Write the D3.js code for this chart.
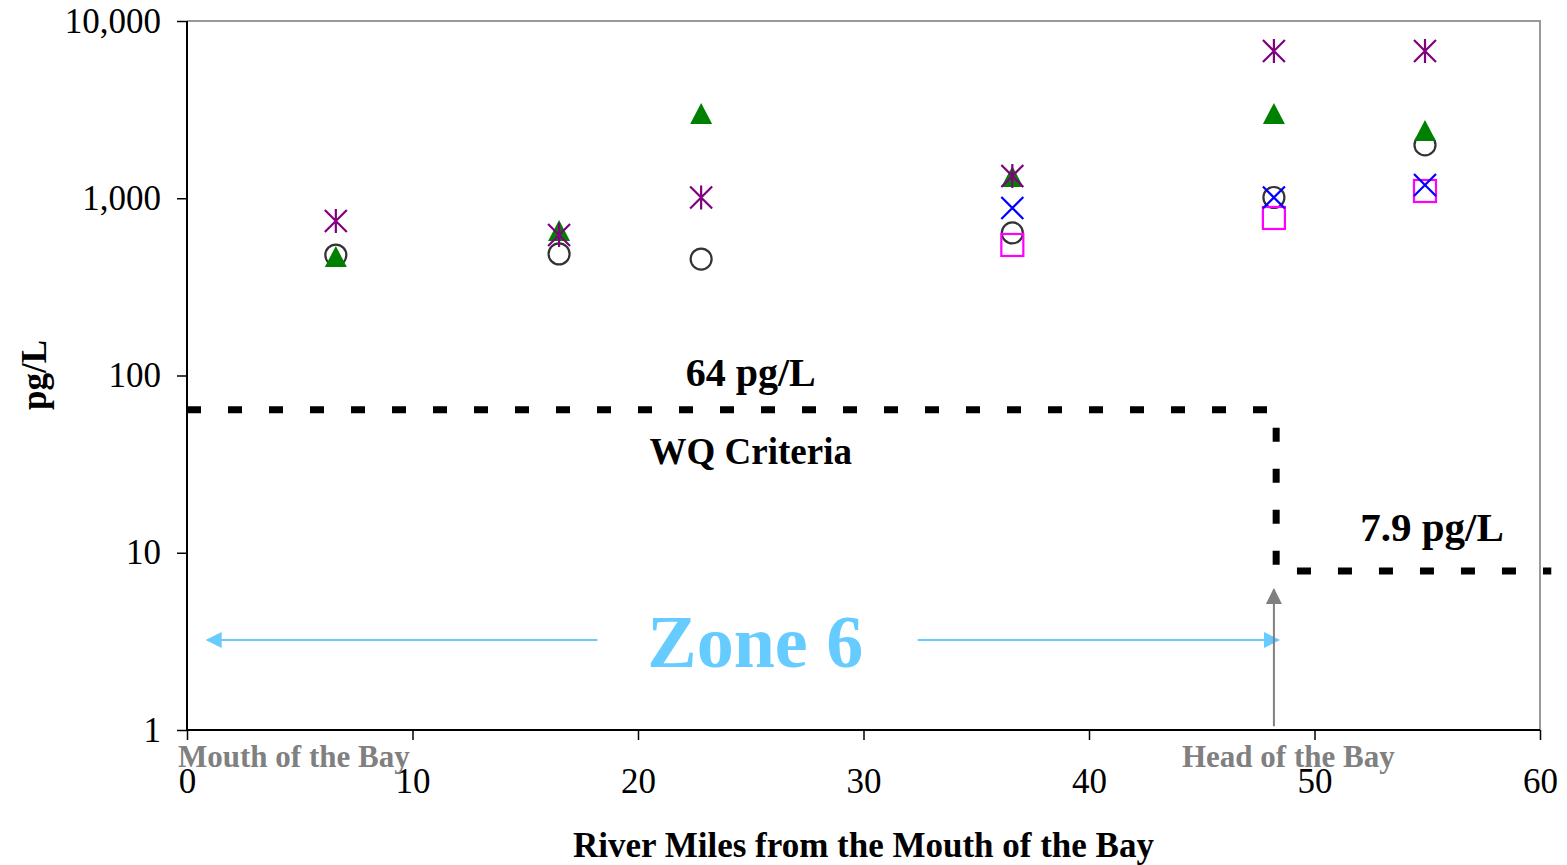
<!DOCTYPE html>
<html>
<head>
<meta charset="utf-8">
<script src="https://cdn.jsdelivr.net/npm/d3@7"></script>
<style>
  body { margin: 0; background: #fff; }
  text { font-family: "Liberation Serif", "Times New Roman", serif; }
</style>
</head>
<body>
<div id="chart"></div>
<script>
// river miles for each station
var miles = [6.6, 16.5, 22.8, 36.6, 48.2, 54.9];
var milesUpper = [36.6, 48.2, 54.9];

// series values (pg/L)
var asterisk = [745, 621, 1010, 1335, 6770, 6770];
var triangle = [466, 654, 2990, 1318, 2990, 2395];
var circle = [478, 485, 454, 637, 1010, 2000];
var cross = [881, 1010, 1188];
var square = [545, 774, 1099];

// criteria step (mile, pg/L)
var criteria = [[0, 64], [48.3, 64], [48.3, 7.9], [60.5, 7.9]];

var xTicks = [0, 10, 20, 30, 40, 50, 60];
var yTicks = [1, 10, 100, 1000, 10000];

function drawChart() {
  var width = 1567, height = 865;
  var mLeft = 187, mRight = 1540, mTop = 21, mBottom = 730;

  var svg = d3.select('#chart').append('svg')
    .attr('width', width)
    .attr('height', height);

  var x = d3.scaleLinear().domain([0, 60]).range([mLeft, mRight]);
  var y = d3.scaleLog().domain([1, 10000]).range([mBottom, mTop]);

  // frame top/right in gray
  svg.append('path')
    .attr('d', 'M' + mLeft + ',' + mTop + 'H' + mRight + 'V' + mBottom)
    .attr('fill', 'none')
    .attr('stroke', '#999')
    .attr('stroke-width', 2);

  // axes
  var yAxis = svg.append('g')
    .attr('transform', 'translate(' + mLeft + ',0)')
    .call(d3.axisLeft(y).tickValues(yTicks).tickSize(10).tickFormat(d3.format(',')));
  var xAxis = svg.append('g')
    .attr('transform', 'translate(0,' + mBottom + ')')
    .call(d3.axisBottom(x).tickValues(xTicks).tickSize(10).tickFormat(function(d){ return d; }));

  [xAxis, yAxis].forEach(function(a) {
    a.select('.domain').attr('stroke', '#000').attr('stroke-width', 2);
    a.selectAll('.tick line').attr('stroke', '#000').attr('stroke-width', 1.5);
    a.selectAll('.tick text')
      .attr('font-family', '"Liberation Serif", serif')
      .attr('font-size', 35)
      .attr('fill', '#000');
  });
  yAxis.select('.domain').attr('d', 'M0,' + mTop + 'V' + mBottom);
  yAxis.selectAll('.tick text').attr('x', -26);
  xAxis.select('.domain').attr('d', 'M' + mLeft + ',0H' + mRight);
  xAxis.selectAll('.tick text').attr('y', 38);

  // axis titles
  svg.append('text')
    .attr('x', x(30)).attr('y', 857)
    .attr('text-anchor', 'middle')
    .attr('font-weight', 'bold').attr('font-size', 35)
    .text('River Miles from the Mouth of the Bay');

  svg.append('text')
    .attr('transform', 'translate(46,375) rotate(-90)')
    .attr('text-anchor', 'middle')
    .attr('font-weight', 'bold').attr('font-size', 35)
    .text('pg/L');

  // location notes under axis
  svg.append('text')
    .attr('x', 178).attr('y', 767)
    .attr('font-weight', 'bold').attr('font-size', 31).attr('fill', '#808080')
    .text('Mouth of the Bay');
  svg.append('text')
    .attr('x', 1182).attr('y', 767)
    .attr('font-weight', 'bold').attr('font-size', 31).attr('fill', '#808080')
    .text('Head of the Bay');

  // criteria dashed step
  var line = d3.line().x(function(d){ return x(d[0]); }).y(function(d){ return y(d[1]); });
  svg.append('path')
    .attr('d', line(criteria))
    .attr('fill', 'none')
    .attr('stroke', '#000')
    .attr('stroke-width', 7)
    .attr('stroke-dasharray', '14,27');

  svg.append('text')
    .attr('x', x(25)).attr('y', 386)
    .attr('text-anchor', 'middle')
    .attr('font-weight', 'bold').attr('font-size', 40)
    .text('64 pg/L');
  svg.append('text')
    .attr('x', x(25)).attr('y', 464)
    .attr('text-anchor', 'middle')
    .attr('font-weight', 'bold').attr('font-size', 37)
    .text('WQ Criteria');
  svg.append('text')
    .attr('x', 1432).attr('y', 541)
    .attr('text-anchor', 'middle')
    .attr('font-weight', 'bold').attr('font-size', 41)
    .text('7.9 pg/L');

  // arrow heads
  var defs = svg.append('defs');
  function marker(id, color) {
    defs.append('marker')
      .attr('id', id)
      .attr('viewBox', '0 0 10 10')
      .attr('refX', 9).attr('refY', 5)
      .attr('markerWidth', 16).attr('markerHeight', 16)
      .attr('markerUnits', 'userSpaceOnUse')
      .attr('orient', 'auto')
      .append('path').attr('d', 'M0,0L10,5L0,10Z').attr('fill', color);
  }
  marker('blueHead', '#66CCFF');
  marker('grayHead', '#808080');

  var zoneY = y(3.22);
  svg.append('line')
    .attr('x1', x(18.2)).attr('x2', x(0.9))
    .attr('y1', zoneY).attr('y2', zoneY)
    .attr('stroke', '#66CCFF').attr('stroke-width', 2)
    .attr('marker-end', 'url(#blueHead)');
  svg.append('line')
    .attr('x1', x(32.4)).attr('x2', x(48.4))
    .attr('y1', zoneY).attr('y2', zoneY)
    .attr('stroke', '#66CCFF').attr('stroke-width', 2)
    .attr('marker-end', 'url(#blueHead)');
  svg.append('line')
    .attr('x1', x(48.2)).attr('x2', x(48.2))
    .attr('y1', y(1.05)).attr('y2', y(6.2))
    .attr('stroke', '#808080').attr('stroke-width', 2)
    .attr('marker-end', 'url(#grayHead)');

  svg.append('text')
    .attr('x', x(25.2)).attr('y', 667)
    .attr('text-anchor', 'middle')
    .attr('font-weight', 'bold').attr('font-size', 74)
    .attr('fill', '#66CCFF')
    .text('Zone 6');

  // markers
  function pts(xs, ys) { return xs.map(function(m, i){ return [m, ys[i]]; }); }
  function pos(d) { return 'translate(' + x(d[0]) + ',' + y(d[1]) + ')'; }

  svg.append('g').selectAll('circle')
    .data(pts(miles, circle)).enter().append('circle')
    .attr('transform', pos).attr('r', 10.5)
    .attr('fill', 'none').attr('stroke', '#333').attr('stroke-width', 2.2);

  svg.append('g').selectAll('rect')
    .data(pts(milesUpper, square)).enter().append('rect')
    .attr('transform', pos)
    .attr('x', -11).attr('y', -11).attr('width', 22).attr('height', 22)
    .attr('fill', 'none').attr('stroke', '#FF00FF').attr('stroke-width', 2.2);

  svg.append('g').selectAll('path')
    .data(pts(milesUpper, cross)).enter().append('path')
    .attr('transform', pos)
    .attr('d', 'M-11,-11L11,11M-11,11L11,-11')
    .attr('stroke', '#0000FF').attr('stroke-width', 2.2);

  svg.append('g').selectAll('path')
    .data(pts(miles, triangle)).enter().append('path')
    .attr('transform', pos)
    .attr('d', 'M0,-11L11,10L-11,10Z')
    .attr('fill', '#008000');

  svg.append('g').selectAll('path')
    .data(pts(miles, asterisk)).enter().append('path')
    .attr('transform', pos)
    .attr('d', 'M-11,-11L11,11M-11,11L11,-11M0,-12V12')
    .attr('stroke', '#800080').attr('stroke-width', 2.2);
}

drawChart();
</script>
</body>
</html>
